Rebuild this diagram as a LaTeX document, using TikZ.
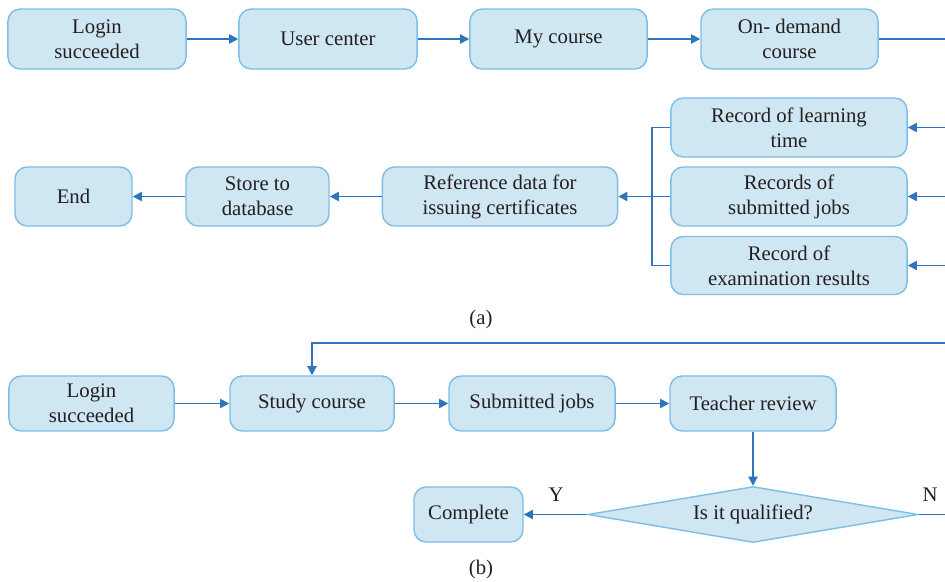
\documentclass[tikz,border=0pt]{standalone}
\usepackage{fontspec}
\setmainfont{Liberation Serif}
\usetikzlibrary{arrows.meta,shapes.geometric}

\definecolor{boxfill}{RGB}{207,230,243}
\definecolor{boxline}{RGB}{125,190,230}
\definecolor{flowline}{RGB}{46,117,190}
\definecolor{txt}{RGB}{35,31,32}

\tikzset{
  stepbox/.style={draw=boxline, fill=boxfill, line width=0.4pt, rounded corners=3.5pt,
    align=center, inner sep=0pt, text=txt, font=\fontsize{5.9}{7.1}\selectfont},
  decision/.style={diamond, aspect=6, draw=boxline, fill=boxfill, line width=0.4pt,
    inner sep=0pt, text=txt, font=\fontsize{5.9}{7.1}\selectfont},
  link/.style={draw=flowline, line width=0.5pt},
  arrow/.style={link, -{Triangle[length=2.6pt,width=2.6pt]}},
  caption/.style={text=txt, font=\fontsize{5.9}{7.1}\selectfont}
}

\begin{document}
\begin{tikzpicture}[x={(0.01cm,0)}, y={(0,-0.01cm)}]
\useasboundingbox (0,0) rectangle (945,581);

% (a) top row
\node[stepbox, minimum width=1.78cm, minimum height=0.6cm] (loginA) at (97,39) {Login\\succeeded};
\node[stepbox, minimum width=1.78cm, minimum height=0.6cm] (user) at (328,39) {User center};
\node[stepbox, minimum width=1.77cm, minimum height=0.6cm] (mycourse) at (558.5,39) {My course};
\node[stepbox, minimum width=1.77cm, minimum height=0.6cm] (ondemand) at (789.5,39) {On- demand\\course};
\coordinate (ondemandOut) at (945,39);

\draw[arrow] (loginA) -- (user);
\draw[arrow] (user) -- (mycourse);
\draw[arrow] (mycourse) -- (ondemand);
\draw[link] (ondemand) -- (ondemandOut);

% (a) records
\node[stepbox, minimum width=2.36cm, minimum height=0.59cm] (recTime) at (789,127.5) {Record of learning\\time};
\node[stepbox, minimum width=2.36cm, minimum height=0.59cm] (recJobs) at (789,196.5) {Records of\\submitted jobs};
\node[stepbox, minimum width=2.36cm, minimum height=0.58cm] (recExam) at (789,265.5) {Record of\\examination results};
\coordinate (timeIn) at (945,127.5);
\coordinate (jobsIn) at (945,196.5);
\coordinate (examIn) at (945,265.5);

\draw[arrow] (timeIn) -- (recTime);
\draw[arrow] (jobsIn) -- (recJobs);
\draw[arrow] (examIn) -- (recExam);

% (a) bottom row
\node[stepbox, minimum width=2.35cm, minimum height=0.59cm] (refdata) at (500,196.5) {Reference data for\\issuing certificates};
\node[stepbox, minimum width=1.43cm, minimum height=0.59cm] (store) at (257.5,196.5) {Store to\\database};
\node[stepbox, minimum width=1.17cm, minimum height=0.59cm] (endnode) at (73.5,196.5) {End};

\draw[link] (recTime.west) -- ++(-18,0) |- (recExam.west);
\draw[arrow] (recJobs.west) -- (refdata.east);
\draw[arrow] (refdata) -- (store);
\draw[arrow] (store) -- (endnode);

\node[caption] (capA) at (481,320) {(a)};

% (b)
\node[stepbox, minimum width=1.65cm, minimum height=0.55cm] (loginB) at (91.5,403.5) {Login\\succeeded};
\node[stepbox, minimum width=1.64cm, minimum height=0.55cm] (study) at (312,403.5) {Study course};
\node[stepbox, minimum width=1.66cm, minimum height=0.55cm] (jobs) at (532,403.5) {Submitted jobs};
\node[stepbox, minimum width=1.66cm, minimum height=0.55cm] (review) at (753,403.5) {Teacher review};
\node[decision, minimum width=3.3cm, minimum height=0.56cm] (qualified) at (753,514.5) {Is it qualified?};
\node[stepbox, minimum width=1.09cm, minimum height=0.55cm] (complete) at (468.5,514.5) {Complete};
\coordinate (retry) at (945,343);
\coordinate (noOut) at (945,514.5);

\draw[arrow] (loginB) -- (study);
\draw[arrow] (study) -- (jobs);
\draw[arrow] (jobs) -- (review);
\draw[arrow] (review) -- (qualified);
\draw[arrow] (qualified) -- (complete);
\draw[link] (qualified) -- (noOut);
\draw[arrow] (retry) -| (study.north);

\node[caption] (yes) at (556,495) {Y};
\node[caption] (no) at (930,495) {N};
\node[caption] (capB) at (481,569) {(b)};
\end{tikzpicture}
\end{document}
